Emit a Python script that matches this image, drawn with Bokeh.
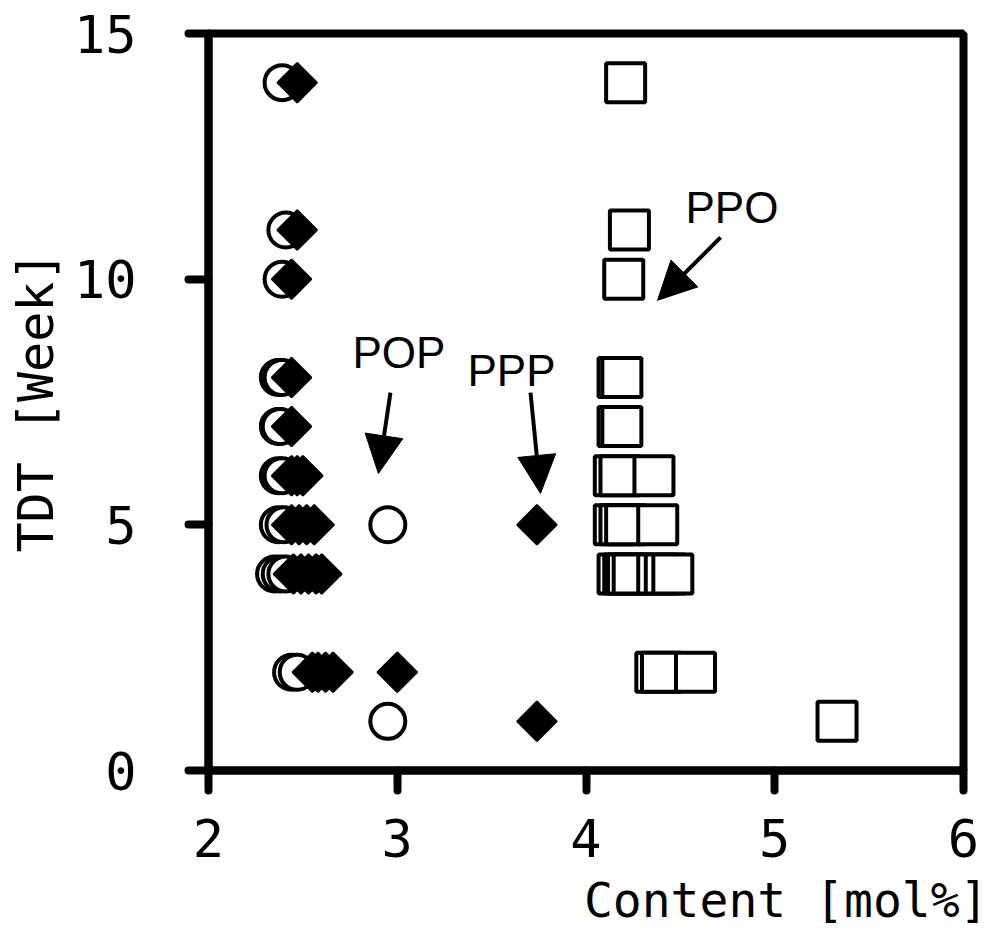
import math
from bokeh.plotting import figure
from bokeh.models import FixedTicker, Label, Arrow, NormalHead, Title
from bokeh.embed import file_html
from bokeh.resources import INLINE

# POP (open circles)
pop_content = [2.39, 2.41, 2.39, 2.37, 2.39, 2.37, 2.38, 2.37, 2.39,
               2.37, 2.40, 2.95, 2.35, 2.38, 2.41, 2.44, 2.47, 2.95]
pop_tdt = [14, 11, 10, 8, 8, 7, 7, 6, 6,
           5, 5, 5, 4, 4, 4, 2, 2, 1]

# PPP (filled diamonds)
ppp_content = [2.47, 2.47, 2.44, 2.44, 2.44, 2.44, 2.47, 2.50,
               2.44, 2.48, 2.52, 2.56, 3.74, 2.45, 2.49, 2.53, 2.57, 2.60,
               2.55, 2.58, 2.62, 2.66, 3.00, 3.74]
ppp_tdt = [14, 11, 10, 8, 7, 6, 6, 6,
           5, 5, 5, 5, 5, 4, 4, 4, 4, 4,
           2, 2, 2, 2, 2, 1]

# PPO (open squares)
ppo_content = [4.21, 4.23, 4.20, 4.17, 4.19, 4.17, 4.19, 4.15, 4.18, 4.36,
               4.15, 4.18, 4.21, 4.38, 4.17, 4.20, 4.22, 4.25, 4.38, 4.42, 4.46,
               4.37, 4.40, 4.58, 5.33]
ppo_tdt = [14, 11, 10, 8, 8, 7, 7, 6, 6, 6,
           5, 5, 5, 5, 4, 4, 4, 4, 4, 4, 4,
           2, 2, 2, 1]

x_ticks = [2, 3, 4, 5, 6]
y_ticks = [0, 5, 10, 15]
x_title = "Content [mol%]"
y_title = "TDT [Week]"

p = figure(width=999, height=945, x_range=(2, 6), y_range=(0, 15),
           output_backend="svg", toolbar_location=None,
           min_border_left=208, min_border_right=36,
           min_border_top=33, min_border_bottom=175)
p.background_fill_color = "white"
p.border_fill_color = "white"
p.outline_line_color = "black"
p.outline_line_width = 8
p.grid.visible = False

for ax, ticks in ((p.xaxis[0], x_ticks), (p.yaxis[0], y_ticks)):
    ax.ticker = FixedTicker(ticks=ticks)
    ax.axis_line_width = 8
    ax.axis_line_color = "black"
    ax.major_tick_in = 0
    ax.major_tick_out = 20
    ax.major_tick_line_width = 8
    ax.major_tick_line_cap = "round"
    ax.minor_tick_line_color = None
    ax.major_label_text_font = "DejaVu Sans Mono"
    ax.major_label_text_font_size = "52px"
    ax.major_label_text_color = "black"

p.yaxis[0].major_label_standoff = 52
p.xaxis[0].major_label_standoff = 28

# y axis title
p.yaxis[0].axis_label = y_title
p.yaxis[0].axis_label_text_font = "DejaVu Sans Mono"
p.yaxis[0].axis_label_text_font_size = "50px"
p.yaxis[0].axis_label_text_font_style = "normal"
p.yaxis[0].axis_label_text_color = "black"
p.yaxis[0].axis_label_standoff = 6

# x axis title, right aligned
p.add_layout(Title(text=x_title, align="right", offset=-25, standoff=20,
                   text_font="DejaVu Sans Mono", text_font_size="48px",
                   text_font_style="normal", text_color="black"), "below")

# markers
p.scatter(ppo_content, ppo_tdt, marker="square", size=39,
          fill_color="white", line_color="black", line_width=4)
p.scatter(pop_content, pop_tdt, marker="circle", size=35,
          fill_color="white", line_color="black", line_width=4)
p.scatter(ppp_content, ppp_tdt, marker="square", size=28, angle=math.pi / 4,
          fill_color="black", line_color="black", line_width=2)

# annotations
lab_font = "Liberation Sans"
for txt, x, y in (("POP", 2.763, 8.50), ("PPP", 3.372, 8.15), ("PPO", 4.527, 11.46)):
    p.add_layout(Label(x=x, y=y, text=txt, text_font=lab_font, text_font_size="44px",
                       text_align="left", text_baseline="alphabetic", text_color="black"))

for xs, ys, xe, ye in ((2.964, 7.69, 2.90, 6.045),
                       (3.706, 7.69, 3.759, 5.64),
                       (4.713, 10.85, 4.379, 9.57)):
    p.add_layout(Arrow(x_start=xs, y_start=ys, x_end=xe, y_end=ye,
                       line_width=4, line_color="black",
                       end=NormalHead(size=38, fill_color="black",
                                      line_color="black", line_width=1)))

open("out.html", "w").write(file_html(p, INLINE))
